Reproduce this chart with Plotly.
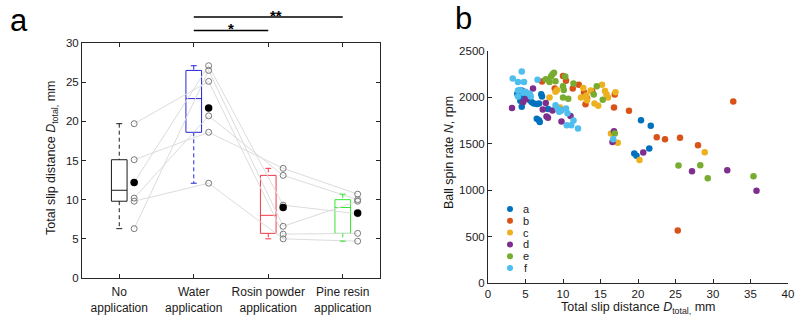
import plotly.graph_objects as go
import numpy as np

# ---------------- Panel a data ----------------
tick_text = ["No<br>application", "Water<br>application",
             "Rosin powder<br>application", "Pine resin<br>application"]
box_q1 = [9.8, 18.6, 5.7, 5.7]
box_median = [11.2, 22.9, 8.0, 9.0]
box_q3 = [15.1, 26.5, 13.1, 10.0]
box_lower = [6.3, 12.1, 5.0, 4.7]
box_upper = [19.7, 27.1, 14.0, 10.7]
means = [12.2, 21.7, 9.0, 8.3]
box_colors = ["#1a1a1a", "#2626d6", "#f03a48", "#33e633"]

# individual participants (same order in every condition)
no_app = [19.7, 15.1, 12.2, 10.2, 9.8, 6.3]
water = [25.1, 18.6, 27.1, 20.7, 12.1, 26.5]
rosin = [5.6, 14.0, 9.3, 13.1, 5.0, 6.6]
pine = [5.7, 10.7, 8.2, 10.0, 4.7, 9.8]

# ---------------- Panel b data ----------------
a_x = [3.9, 4.3, 4.5, 4.6, 5.2, 5.5, 5.8, 6.1, 6.5, 6.8, 7.1, 7.2, 6.5, 6.8, 6.9, 8.0, 20.4, 21.7, 19.5, 19.8, 21.5]
a_y = [2040, 1965, 1900, 2005, 1990, 1975, 1950, 1935, 1930, 1935, 2035, 2010, 1770, 1755, 1735, 1875, 1755, 1695, 1395, 1370, 1450]
b_x = [7.2, 8.9, 10.0, 10.4, 11.3, 12.1, 12.8, 13.0, 13.2, 13.9, 16.8, 16.9, 18.8, 22.5, 23.6, 25.6, 28.0, 32.7, 25.3]
b_y = [2170, 2095, 2230, 2180, 2095, 2135, 2055, 1925, 1990, 2065, 1890, 2030, 1855, 1570, 1550, 1565, 1485, 1955, 565]
c_x = [8.2, 9.0, 9.2, 9.6, 12.4, 12.7, 13.1, 13.2, 13.7, 14.2, 14.7, 15.2, 15.6, 15.8, 16.0, 17.0, 16.4, 17.3, 20.2, 28.9]
c_y = [2000, 2060, 2080, 1890, 2000, 2100, 2020, 1970, 2075, 1935, 1910, 2135, 2070, 2035, 2000, 2055, 1610, 1510, 1325, 1410]
d_x = [3.2, 4.5, 4.7, 5.1, 6.0, 7.3, 7.7, 7.8, 8.0, 8.6, 9.7, 9.8, 11.0, 16.8, 16.6, 20.7, 27.2, 31.9, 35.8]
d_y = [1885, 2075, 1950, 1985, 2095, 1870, 1940, 1795, 1780, 1860, 1860, 1740, 1800, 1635, 1520, 1405, 1205, 1215, 995]
e_x = [7.7, 8.2, 8.4, 8.6, 8.8, 9.0, 10.0, 10.1, 10.0, 10.3, 10.7, 11.4, 14.1, 14.5, 15.3, 16.9, 25.4, 28.3, 29.3, 35.4]
e_y = [2195, 2165, 2225, 2250, 2265, 2175, 2120, 2080, 2000, 2225, 1985, 2150, 2030, 2120, 1975, 1610, 1265, 1270, 1130, 1150]
f_x = [3.3, 4.0, 4.5, 4.8, 6.6, 4.0, 4.3, 4.0, 4.7, 5.0, 5.3, 5.6, 5.7, 9.0, 9.3, 9.5, 9.7, 10.4, 10.6, 10.5, 11.1, 11.4, 12.0, 16.7]
f_y = [2205, 2165, 2280, 2165, 2190, 2075, 2080, 2010, 2050, 2060, 2045, 2035, 2010, 1915, 1880, 1845, 1860, 1880, 1830, 1700, 1700, 1750, 1665, 1550]
series_names = ["a", "b", "c", "d", "e", "f"]
series_colors = ["#0072BD", "#D95319", "#EDB120", "#7E2F8E", "#77AC30", "#4DBEEE"]
series_x = [a_x, b_x, c_x, d_x, e_x, f_x]
series_y = [a_y, b_y, c_y, d_y, e_y, f_y]

FONT = "Liberation Sans, Arial, sans-serif"
TXT = "#1a1a1a"
W, H = 805, 325

pos = np.arange(1, 5)
pt_off = 0.2
box_w = 0.21
cap = 0.04

fig = go.Figure()

# gray connecting lines per participant
conds = [no_app, water, rosin, pine]
for i in range(len(no_app)):
    fig.add_trace(go.Scatter(x=pos + pt_off, y=[c[i] for c in conds], mode="lines",
                             line=dict(color="#dcdcdc", width=1), showlegend=False,
                             hoverinfo="skip", xaxis="x", yaxis="y"))

for k in range(4):
    p = pos[k]
    col = box_colors[k]
    fig.add_trace(go.Box(x=[p], q1=[box_q1[k]], median=[box_median[k]], q3=[box_q3[k]],
                         lowerfence=[box_q1[k]], upperfence=[box_q3[k]],
                         width=box_w, whiskerwidth=0, line=dict(color=col, width=1),
                         fillcolor="rgba(0,0,0,0)", boxpoints=False, showlegend=False,
                         xaxis="x", yaxis="y"))
    fig.add_trace(go.Scatter(x=[p, p, None, p, p],
                             y=[box_upper[k], box_q3[k], None, box_q1[k], box_lower[k]],
                             mode="lines", line=dict(color=col, width=1, dash="4px,3px"),
                             showlegend=False, xaxis="x", yaxis="y"))
    fig.add_trace(go.Scatter(x=[p - cap, p + cap, None, p - cap, p + cap],
                             y=[box_upper[k], box_upper[k], None, box_lower[k], box_lower[k]],
                             mode="lines", line=dict(color=col, width=1),
                             showlegend=False, xaxis="x", yaxis="y"))
    fig.add_trace(go.Scatter(x=[p + pt_off] * len(conds[k]), y=conds[k], mode="markers",
                             marker=dict(symbol="circle-open", size=6,
                                         color="#7a7a7a", line=dict(width=1, color="#7a7a7a")),
                             showlegend=False, xaxis="x", yaxis="y"))
fig.add_trace(go.Scatter(x=pos + pt_off, y=means, mode="markers",
                         marker=dict(size=7.5, color="black"), showlegend=False,
                         xaxis="x", yaxis="y"))

# right panel scatter
for nm, col, xs, ys in zip(series_names, series_colors, series_x, series_y):
    fig.add_trace(go.Scatter(x=xs, y=ys, mode="markers", name=nm,
                             marker=dict(size=6.5, color=col), showlegend=False,
                             xaxis="x2", yaxis="y2"))

def px(x):
    return x / W

def py(y):
    return (H - y) / H

axis_common = dict(showgrid=False, zeroline=False, linecolor="#262626", linewidth=1,
                   ticks="inside", ticklen=4, tickcolor="#262626", automargin=False,
                   tickfont=dict(family=FONT, size=11.5, color=TXT))

fig.update_layout(
    width=W, height=H, margin=dict(l=0, r=0, t=0, b=0, pad=0),
    paper_bgcolor="white", plot_bgcolor="white",
    font=dict(family=FONT, color=TXT),
    xaxis=dict(domain=[px(82), px(380)], range=[0.5, 4.5], tickvals=list(pos),
               ticktext=tick_text, showline=True, mirror="ticks", anchor="y",
               ticklabelstandoff=3,
               **{**axis_common, "tickfont": dict(family=FONT, size=12, color=TXT)}),
    yaxis=dict(domain=[py(278), py(43)], range=[0, 30], dtick=5, showline=True,
               mirror="ticks", anchor="x", **axis_common),
    xaxis2=dict(domain=[px(488), px(788)], range=[0, 40], dtick=5, showline=True,
                anchor="y2", **axis_common),
    yaxis2=dict(domain=[py(283), py(51)], range=[0, 2500], dtick=500, showline=True,
                anchor="x2", **axis_common),
)

shapes = []
annotations = []

def note(text, x, y, size, xanchor="center", angle=0, color=TXT):
    annotations.append(dict(text=text, x=px(x), y=py(y), xref="paper", yref="paper",
                            xanchor=xanchor, yanchor="middle", textangle=angle,
                            showarrow=False, font=dict(family=FONT, size=size, color=color)))

# significance bars
shapes.append(dict(type="line", xref="x", yref="paper", x0=2, x1=4, y0=py(17), y1=py(17),
                   line=dict(color="black", width=1.3)))
shapes.append(dict(type="line", xref="x", yref="paper", x0=2, x1=3, y0=py(30.5), y1=py(30.5),
                   line=dict(color="black", width=1.3)))
annotations.append(dict(text="<b>**</b>", x=3.1, xref="x", y=py(17), yref="paper",
                        xanchor="center", yanchor="bottom", showarrow=False, yshift=-9,
                        font=dict(family=FONT, size=15, color="black")))
annotations.append(dict(text="<b>*</b>", x=2.5, xref="x", y=py(30.5), yref="paper",
                        xanchor="center", yanchor="bottom", showarrow=False, yshift=-9,
                        font=dict(family=FONT, size=15, color="black")))
# axis titles
note("Total slip distance <i>D</i><sub>total,</sub> mm", 52, 158, 12.5, angle=-90)
note("Ball spin rate <i>N</i>, rpm", 449, 153, 12.5, angle=-90)
note("Total slip distance <i>D</i><sub>total,</sub> mm", 638, 308, 12.5)
# panel labels
note("a", 19, 20, 31, color="black")
note("b", 464, 19, 31, color="black")
# compact legend
for i, (nm, col) in enumerate(zip(series_names, series_colors)):
    yy = 209 + i * 11.8
    shapes.append(dict(type="circle", xref="paper", yref="paper",
                       xsizemode="pixel", ysizemode="pixel",
                       xanchor=px(510), yanchor=py(yy), x0=-3, x1=3, y0=-3, y1=3,
                       fillcolor=col, line=dict(width=0)))
    note(nm, 526, yy, 11)

fig.update_layout(shapes=shapes, annotations=annotations)
fig.write_html("out.html")
